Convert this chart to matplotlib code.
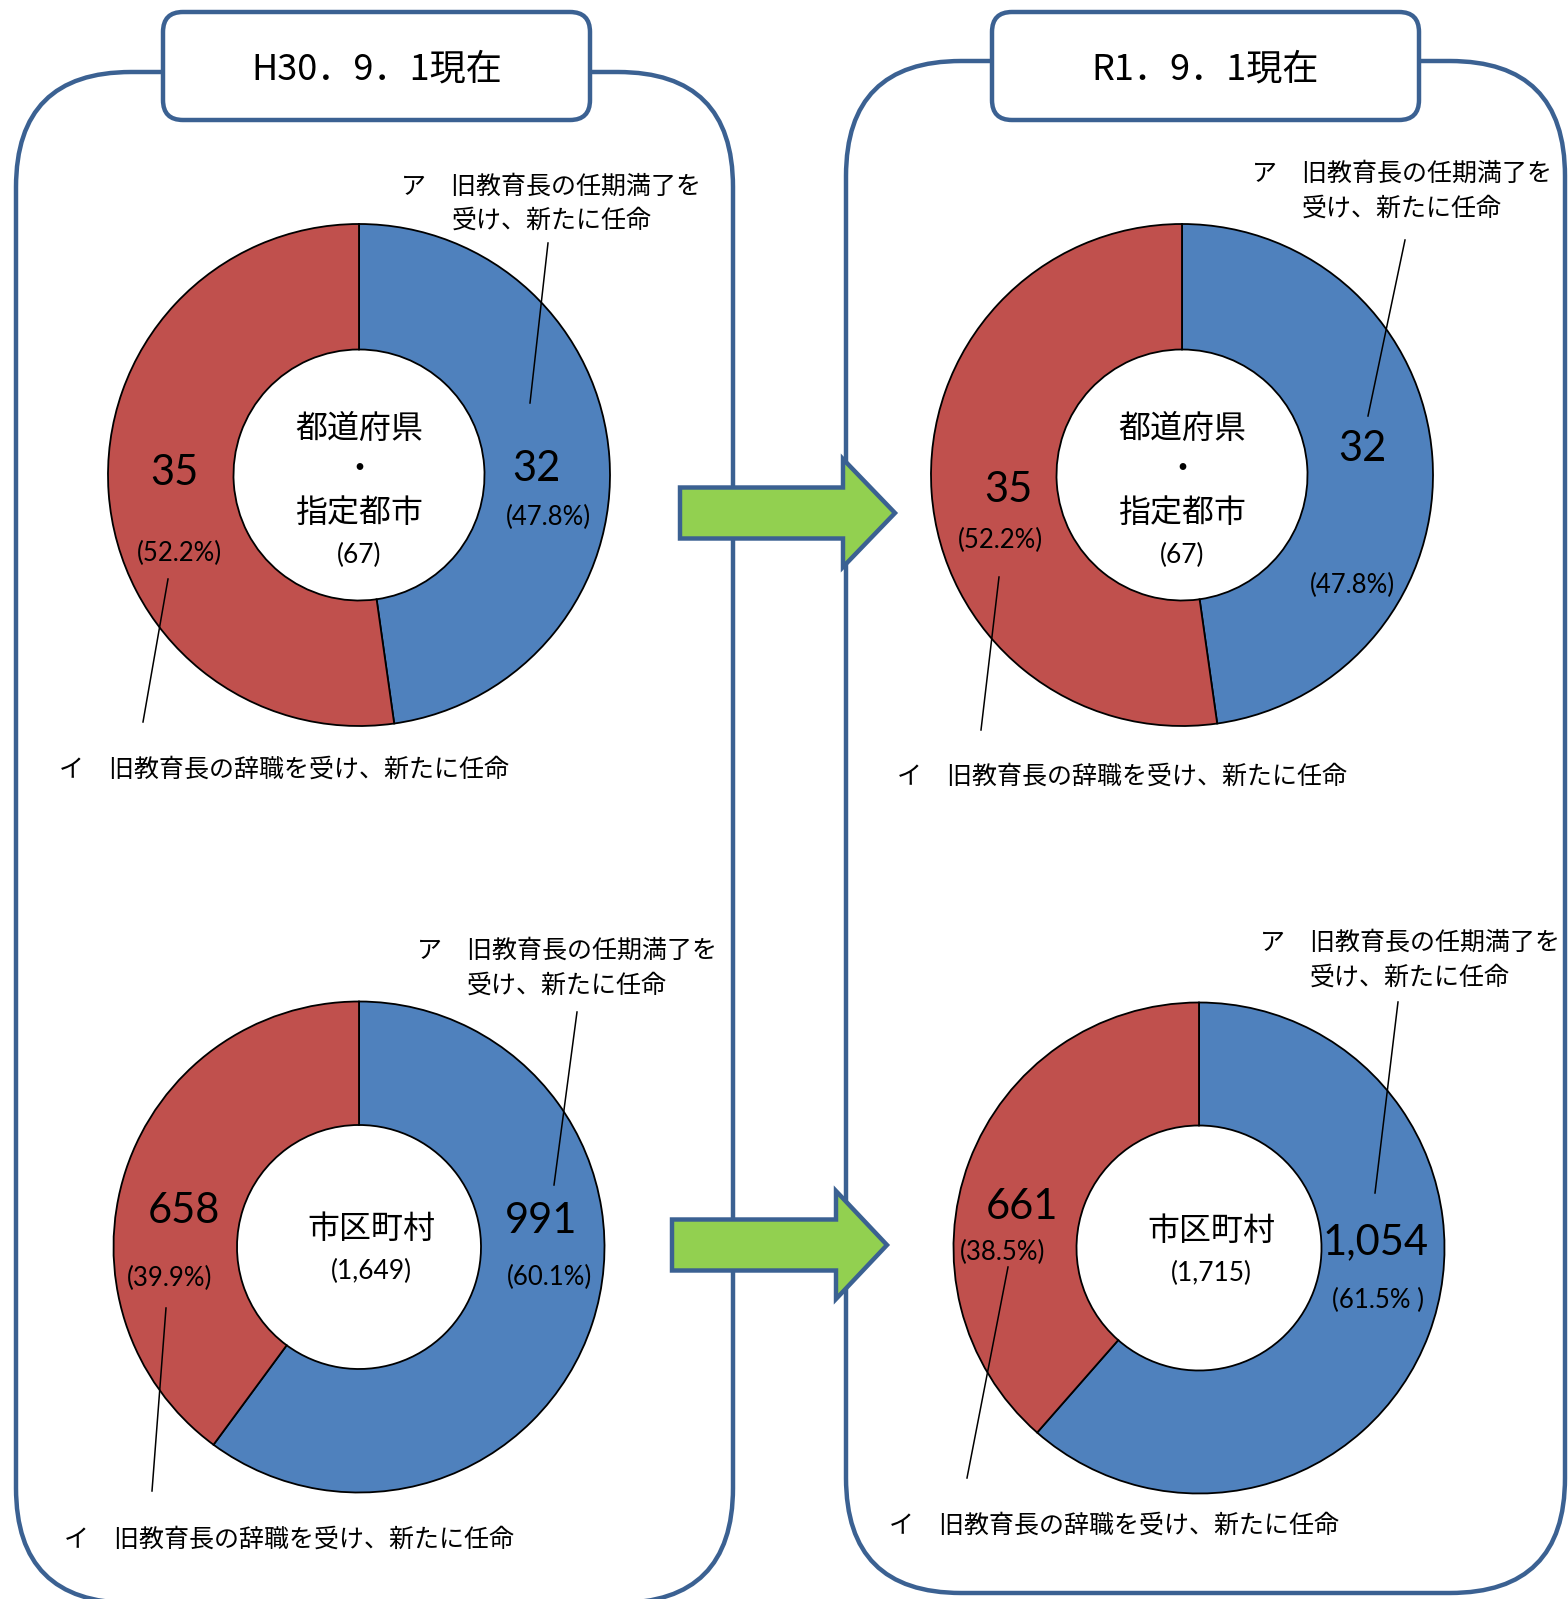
import matplotlib
matplotlib.use("Agg")
import matplotlib.pyplot as plt
from matplotlib.patches import FancyBboxPatch, Polygon

W, H = 1568, 1599
JP = ["Noto Sans CJK JP", "DejaVu Sans"]
NUM = ["Lato", "Noto Sans CJK JP", "DejaVu Sans"]

# ---------------- data ----------------
periods = ["H30．9．1現在", "R1．9．1現在"]
group_names = [["都道府県", "・", "指定都市"], ["市区町村"]]
label_a = ["ア　旧教育長の任期満了を", "受け、新たに任命"]
label_b = "イ　旧教育長の辞職を受け、新たに任命"
# [period][group]  group 0 = 都道府県・指定都市, group 1 = 市区町村
count_a = [[32, 991], [32, 1054]]      # ア 任期満了
count_b = [[35, 658], [35, 661]]       # イ 辞職
pct_a = [["47.8%", "60.1%"], ["47.8%", "61.5% "]]
pct_b = [["52.2%", "39.9%"], ["52.2%", "38.5%"]]

BLUE, RED = "#4F81BD", "#C0504D"
FRAME, GREEN = "#3B6192", "#92D050"

# ---------------- layout (pixel positions) ----------------
layout = {
    (0, 0): dict(c=(359, 475), ro=251, ri=125.5,
                 a1=(551, 184), a2=(552, 218), la=((548, 243), (530, 403)),
                 na=(536, 466), pa=(548, 514), nb=(174, 470), pb=(179, 550),
                 lb=((168, 579), (143, 722)), bt=(59, 767),
                 ctr=[(359, 426), (359, 467), (359, 510)], cnt=(359, 552)),
    (1, 0): dict(c=(1182, 475), ro=251, ri=125.5,
                 a1=(1402, 171), a2=(1402, 206), la=((1405, 240), (1368, 416)),
                 na=(1362, 446), pa=(1352, 582), nb=(1008, 487), pb=(1000, 537),
                 lb=((999, 577), (981, 730)), bt=(897, 774),
                 ctr=[(1182, 426), (1182, 467), (1182, 510)], cnt=(1182, 552)),
    (0, 1): dict(c=(359, 1247), ro=245.5, ri=122,
                 a1=(567, 948), a2=(567, 983), la=((577, 1012), (554, 1185)),
                 na=(541, 1218), pa=(550, 1274), nb=(184, 1208), pb=(170, 1275),
                 lb=((166, 1308), (152, 1491)), bt=(64, 1537),
                 ctr=[(371, 1226)], cnt=(371, 1268)),
    (1, 1): dict(c=(1199, 1248), ro=245.5, ri=122.5,
                 a1=(1410, 940), a2=(1410, 975), la=((1398, 1002), (1375, 1193)),
                 na=(1376, 1239), pa=(1378, 1297), nb=(1022, 1204), pb=(1003, 1249),
                 lb=((1008, 1267), (967, 1478)), bt=(889, 1523),
                 ctr=[(1211, 1228)], cnt=(1211, 1270)),
}
panels = [(16, 72, 733, 1603), (846, 61, 1565, 1593)]
title_boxes = [(163, 12, 590, 120), (992, 12, 1419, 120)]
arrows = [dict(x0=680, xb=843, xt=895, yc=513, hs=25.5, hh=54),
          dict(x0=672, xb=836, xt=887, yc=1245, hs=25.5, hh=54)]
DY = 3  # text baseline nudge (pixels, downward)

fig = plt.figure(figsize=(W / 100, H / 100), dpi=100)
ax = fig.add_axes([0, 0, 1, 1])


def txt(pos, s, **kw):
    x, y = pos
    kw.setdefault("ha", "center")
    ax.text(x, y + DY, s, va="center", zorder=6, **kw)


# panels
for (x0, y0, x1, y1) in panels:
    ax.add_patch(FancyBboxPatch((x0, y0), x1 - x0, y1 - y0,
                                boxstyle="round,pad=0,rounding_size=115",
                                fc="white", ec=FRAME, lw=3.2, zorder=1))

# donuts
for p in range(2):
    for g in range(2):
        L = layout[(p, g)]
        vals = [count_a[p][g], count_b[p][g]]
        ax.pie(vals, colors=[BLUE, RED], startangle=-90, counterclock=True,
               center=L["c"], radius=L["ro"], frame=True,
               wedgeprops=dict(width=L["ro"] - L["ri"], edgecolor="black",
                               linewidth=1.3, zorder=2))
        # ア label
        txt(L["a1"], label_a[0], family=JP, fontsize=18)
        txt(L["a2"], label_a[1], family=JP, fontsize=18)
        (xa0, ya0), (xa1, ya1) = L["la"]
        ax.plot([xa0, xa1], [ya0, ya1], color="black", lw=1.1, zorder=6)
        # イ label
        txt(L["bt"], label_b, family=JP, fontsize=18, ha="left")
        (xb0, yb0), (xb1, yb1) = L["lb"]
        ax.plot([xb0, xb1], [yb0, yb1], color="black", lw=1.1, zorder=6)
        # numbers
        txt(L["na"], f"{count_a[p][g]:,}", family=NUM, fontsize=30)
        txt(L["pa"], f"({pct_a[p][g]})", family=NUM, fontsize=18.5)
        txt(L["nb"], f"{count_b[p][g]:,}", family=NUM, fontsize=30)
        txt(L["pb"], f"({pct_b[p][g]})", family=NUM, fontsize=18.5)
        # centre
        for pos, s in zip(L["ctr"], group_names[g]):
            txt(pos, s, family=JP, fontsize=23)
        total = count_a[p][g] + count_b[p][g]
        txt(L["cnt"], f"({total:,})", family=NUM, fontsize=19)

# title boxes
for (x0, y0, x1, y1), t in zip(title_boxes, periods):
    ax.add_patch(FancyBboxPatch((x0, y0), x1 - x0, y1 - y0,
                                boxstyle="round,pad=0,rounding_size=20",
                                fc="white", ec=FRAME, lw=3.2, zorder=3))
    txt(((x0 + x1) / 2, (y0 + y1) / 2 + 1), t, family=JP, fontsize=26)

# arrows
for a in arrows:
    yc, hs, hh = a["yc"], a["hs"], a["hh"]
    pts = [(a["x0"], yc - hs), (a["xb"], yc - hs), (a["xb"], yc - hh), (a["xt"], yc),
           (a["xb"], yc + hh), (a["xb"], yc + hs), (a["x0"], yc + hs)]
    ax.add_patch(Polygon(pts, closed=True, fc=GREEN, ec=FRAME, lw=3.2,
                         joinstyle="miter", zorder=4))

ax.set_aspect("auto")
ax.set_xlim(0, W)
ax.set_ylim(H, 0)
ax.axis("off")
fig.savefig("out.png", dpi=100, facecolor="white")
